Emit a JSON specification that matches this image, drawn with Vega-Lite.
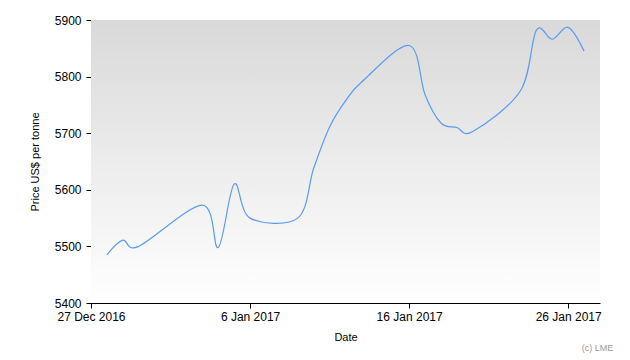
{
  "$schema": "https://vega.github.io/schema/vega-lite/v6.json",
  "width": 509,
  "height": 283,
  "autosize": "none",
  "padding": {"left": 91, "top": 20, "right": 30, "bottom": 57},
  "background": "white",
  "config": {
    "view": {"stroke": null},
    "font": "Liberation Sans",
    "axis": {
      "domainColor": "black",
      "tickColor": "black",
      "labelColor": "black",
      "titleColor": "black",
      "grid": false,
      "labelFont": "Liberation Sans",
      "labelFontSize": 12,
      "titleFont": "Liberation Sans",
      "titleFontSize": 11,
      "titleFontWeight": "normal",
      "tickSize": 5,
      "domainWidth": 1,
      "tickWidth": 1
    }
  },
  "title": {
    "text": "(c) LME",
    "orient": "bottom",
    "anchor": "end",
    "fontSize": 9,
    "fontWeight": "normal",
    "color": "#9a9a9a",
    "font": "Liberation Sans",
    "offset": 2,
    "dx": 12
  },
  "datasets": {
    "prices": [
      {"date": "2016-12-28", "price": 5485},
      {"date": "2016-12-29", "price": 5511},
      {"date": "2016-12-30", "price": 5500},
      {"date": "2017-01-03", "price": 5573},
      {"date": "2017-01-04", "price": 5498},
      {"date": "2017-01-05", "price": 5610},
      {"date": "2017-01-06", "price": 5550},
      {"date": "2017-01-09", "price": 5550},
      {"date": "2017-01-10", "price": 5638},
      {"date": "2017-01-11", "price": 5711},
      {"date": "2017-01-12", "price": 5757},
      {"date": "2017-01-13", "price": 5790},
      {"date": "2017-01-16", "price": 5855},
      {"date": "2017-01-17", "price": 5768},
      {"date": "2017-01-18", "price": 5718},
      {"date": "2017-01-19", "price": 5710},
      {"date": "2017-01-20", "price": 5703},
      {"date": "2017-01-23", "price": 5775},
      {"date": "2017-01-24", "price": 5882},
      {"date": "2017-01-25", "price": 5866},
      {"date": "2017-01-26", "price": 5887},
      {"date": "2017-01-27", "price": 5845}
    ],
    "frame": [
      {"start": "2016-12-27", "end": "2017-01-28", "low": 5400, "high": 5900}
    ]
  },
  "layer": [
    {
      "data": {"name": "frame"},
      "mark": {
        "type": "rect",
        "color": {
          "gradient": "linear",
          "x1": 0, "y1": 0, "x2": 0, "y2": 1,
          "stops": [
            {"offset": 0, "color": "#d9d9d9"},
            {"offset": 1, "color": "#ffffff"}
          ]
        }
      },
      "encoding": {
        "x": {"field": "start", "type": "temporal"},
        "x2": {"field": "end"},
        "y": {"field": "high", "type": "quantitative"},
        "y2": {"field": "low"}
      }
    },
    {
      "data": {"name": "prices"},
      "mark": {"type": "line", "interpolate": "cardinal", "tension": 0, "color": "#5a9bf0", "strokeWidth": 1.2},
      "encoding": {
        "x": {
          "field": "date",
          "type": "temporal",
          "title": "Date",
          "scale": {"type": "utc", "domain": [{"year": 2016, "month": 12, "date": 27, "utc": true}, {"year": 2017, "month": 1, "date": 28, "utc": true}], "nice": false},
          "axis": {
            "values": [
              {"year": 2016, "month": 12, "date": 27, "utc": true},
              {"year": 2017, "month": 1, "date": 6, "utc": true},
              {"year": 2017, "month": 1, "date": 16, "utc": true},
              {"year": 2017, "month": 1, "date": 26, "utc": true}
            ],
            "labelExpr": "utcFormat(datum.value, '%-d %b %Y')",
            "labelPadding": 3,
            "titlePadding": 9,
            "labelFlush": false,
            "labelOverlap": false
          }
        },
        "y": {
          "field": "price",
          "type": "quantitative",
          "title": "Price US$ per tonne",
          "scale": {"domain": [5400, 5900], "nice": false, "zero": false},
          "axis": {
            "values": [5400, 5500, 5600, 5700, 5800, 5900],
            "format": "d",
            "labelPadding": 5,
            "titlePadding": 14
          }
        }
      }
    }
  ]
}
